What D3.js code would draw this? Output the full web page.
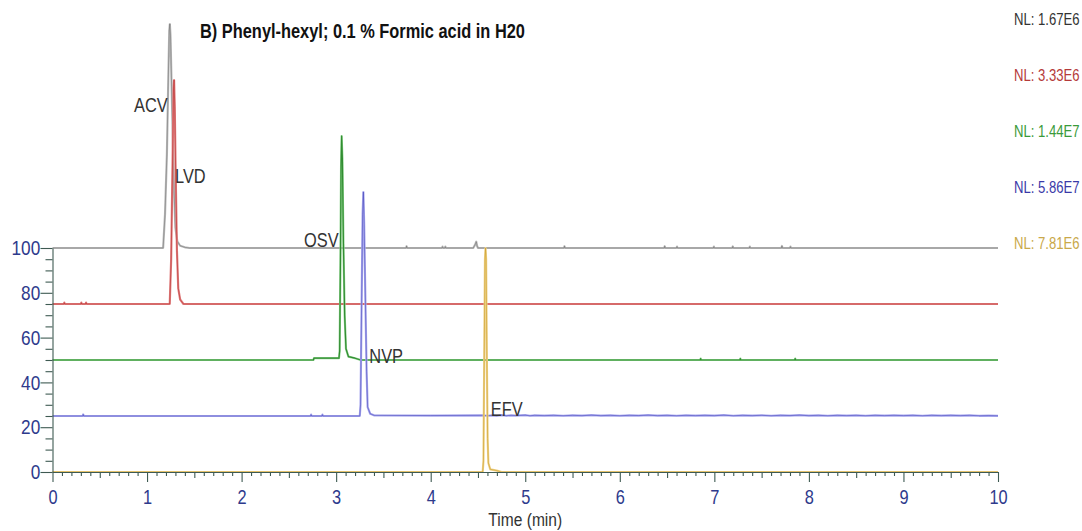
<!DOCTYPE html>
<html>
<head>
<meta charset="utf-8">
<script src="https://cdn.jsdelivr.net/npm/d3@7"></script>
<style>
  html, body { margin: 0; padding: 0; background: #fff; }
  svg { display: block; }
</style>
</head>
<body>
<svg id="chart" width="1082" height="531"></svg>
<script>
// ---------------- DATA ----------------
const titleText = "B) Phenyl-hexyl; 0.1 % Formic acid in H20";
const xLabelText = "Time (min)";
const compounds = ["ACV", "LVD", "OSV", "NVP", "EFV"];
const nlLabels = ["NL: 1.67E6", "NL: 3.33E6", "NL: 1.44E7", "NL: 5.86E7", "NL: 7.81E6"];
const traceOffsets = [100, 75, 50, 25, 0];          // relative abundance offset of each trace
const xMajorTicks = [0, 1, 2, 3, 4, 5, 6, 7, 8, 9, 10];
const yMajorTicks = [0, 20, 40, 60, 80, 100];

// [time (min), relative abundance (0-100)]
const acvTrace = [[0,0],[1.17,0],[1.19,15],[1.21,42],[1.225,76],[1.235,97],[1.241,100],[1.248,95],[1.26,72],[1.272,50],[1.285,26],[1.30,9],[1.32,3],[1.35,1],[1.40,0.3],[1.45,0],
  [3.74,0],[3.745,0.8],[3.75,0],[4.12,0],[4.125,0.6],[4.13,0],[4.15,0],[4.155,0.6],[4.16,0],[4.45,0],[4.47,1.5],[4.482,2.8],[4.49,1],[4.50,0],
  [5.41,0],[5.415,0.8],[5.42,0],[6.47,0],[6.475,0.8],[6.48,0],[6.60,0],[6.605,0.6],[6.61,0],[6.99,0],[6.995,0.6],[7.0,0],[7.19,0],[7.195,0.7],[7.2,0],
  [7.37,0],[7.375,0.6],[7.38,0],[7.71,0],[7.715,0.9],[7.72,0],[7.80,0],[7.805,0.6],[7.81,0],[10,0]];
const lvdTrace = [[0,0],[0.12,0],[0.125,0.6],[0.13,0],[0.30,0],[0.305,0.6],[0.31,0],[0.35,0],[0.355,0.6],[0.36,0],
  [1.24,0],[1.255,20],[1.268,58],[1.28,96],[1.286,100],[1.293,88],[1.303,58],[1.316,24],[1.33,7],[1.35,2],[1.385,0],[10,0]];
const osvTrace = [[0,0],[2.76,0],[2.765,0.8],[3.03,0.8],[3.037,4],[3.045,42],[3.052,86],[3.058,100],[3.066,90],[3.077,52],[3.09,20],[3.104,5],[3.13,1.5],[3.2,0.8],[3.26,0],
  [6.85,0],[6.855,0.6],[6.86,0],[7.27,0],[7.275,0.6],[7.28,0],[7.85,0],[7.855,0.6],[7.86,0],[10,0]];
const nvpTrace = [[0,0],[0.32,0],[0.325,0.7],[0.33,0],[2.73,0],[2.735,0.6],[2.74,0],[2.85,0],[2.855,0.6],[2.86,0],
  [3.25,0],[3.258,5],[3.268,45],[3.28,90],[3.288,100],[3.296,86],[3.31,50],[3.322,20],[3.333,4],[3.36,1],[3.40,0.3],[4.0,0.2],[4.55,0.3],
  [4.6,0.1],[4.65,0.3],[4.7,0.1],[4.75,0.35],[4.8,0.1],[4.85,0.3],[4.9,0.2],[5.0,0.35],[5.05,0.1],[5.1,0.3],[5.2,0.15],[5.3,0.3],[5.4,0.1],[5.5,0.3],
  [5.6,0.15],[5.7,0.35],[5.8,0.15],[5.9,0.3],[6.0,0.1],[6.1,0.3],[6.2,0.2],[6.3,0.35],[6.4,0.15],[6.5,0.3],[6.6,0.1],[6.7,0.3],[6.8,0.15],[6.9,0.3],
  [7.0,0.15],[7.1,0.35],[7.2,0.1],[7.3,0.3],[7.4,0.15],[7.5,0.3],[7.6,0.1],[7.7,0.3],[7.8,0.2],[7.9,0.35],[8.0,0.15],[8.1,0.3],[8.2,0.1],[8.3,0.3],
  [8.4,0.15],[8.5,0.3],[8.6,0.1],[8.7,0.3],[8.8,0.15],[8.9,0.3],[9.0,0.15],[9.1,0.3],[9.2,0.1],[9.3,0.3],[9.4,0.15],[9.5,0.3],[9.6,0.15],[9.7,0.3],
  [9.8,0.1],[9.9,0.2],[10,0.1]];
const efvTrace = [[0,0],[4.55,0],[4.558,5],[4.566,50],[4.574,95],[4.58,100],[4.586,95],[4.594,50],[4.602,15],[4.61,4],[4.63,1.2],[4.70,0.6],[4.75,0],[10,0]];

// label anchors in data units [time, absolute y-value]
const labelTimes = [0.862, 1.296, 2.660, 3.351, 4.635];
const labelValues = [160.9, 129.0, 100.4, 48.7, 25.2];

// ---------------- STYLE ----------------
const traces = [acvTrace, lvdTrace, osvTrace, nvpTrace, efvTrace];
const lightColors = ["#bcbcbc", "#e28484", "#8fd48f", "#a9a9ee", "#efd38c"];
const darkColors  = ["#000000", "#b01818", "#1a7a1a", "#2424a8", "#c8961a"];
const darkWidths  = [0.7, 0.9, 1.2, 0.8, 0.9];
const darkOpacity = [0.3, 0.55, 0.8, 0.5, 0.6];
const nlColors    = ["#333333", "#b53a3a", "#3a9a3a", "#3a3aa8", "#c9a84a"];
const axisColor = "#3e5a52";
const tickTextColor = "#2e3a8c";

// ---------------- FONT ----------------
function fontAvailable(name) {
  const c = document.createElement("canvas").getContext("2d");
  const s = "NL: 1.67E6 Phenyl-hexyl ACV";
  c.font = "20px serif"; const a = c.measureText(s).width;
  c.font = "20px '" + name + "', serif"; const b = c.measureText(s).width;
  c.font = "20px monospace"; const a2 = c.measureText(s).width;
  c.font = "20px '" + name + "', monospace"; const b2 = c.measureText(s).width;
  return a !== b || a2 !== b2;
}
let FONT, SX;
if (fontAvailable("Liberation Sans Narrow")) { FONT = "'Liberation Sans Narrow', 'Liberation Sans', Arial, sans-serif"; SX = 1; }
else { FONT = "'Liberation Sans', Arial, sans-serif"; SX = 0.82; }

// ---------------- SCALES ----------------
const svg = d3.select("#chart");
const x = d3.scaleLinear().domain([0, 10]).range([52.5, 998]);
const y = d3.scaleLinear().domain([0, 200]).range([472, 24]);

function addText(g, px, py, txt, size, color, anchor, weight) {
  return g.append("text")
    .attr("transform", `translate(${px},${py}) scale(${SX},1)`)
    .attr("text-anchor", anchor || "start")
    .attr("font-family", FONT)
    .attr("font-size", size)
    .attr("font-weight", weight || "normal")
    .attr("fill", color)
    .text(txt);
}

// ---------------- TRACES ----------------
const line = d3.line().x(d => x(d[0])).y(d => y(d[1]));
const gTr = svg.append("g");
traces.forEach((tr, i) => {
  const pts = tr.map(d => [d[0], d[1] + traceOffsets[i]]);
  gTr.append("path").attr("d", line(pts)).attr("fill", "none")
    .attr("stroke", lightColors[i]).attr("stroke-width", 2.2).attr("stroke-linejoin", "round");
  gTr.append("path").attr("d", line(pts)).attr("fill", "none")
    .attr("stroke", darkColors[i]).attr("stroke-width", darkWidths[i]).attr("stroke-opacity", darkOpacity[i])
    .attr("stroke-linejoin", "round");
});

// ---------------- AXES ----------------
const xMinor = d3.range(0, 101).map(d => d / 10).filter(d => Math.abs(d - Math.round(d)) > 1e-6);
const xMid = xMinor.filter(d => Math.abs(d * 2 - Math.round(d * 2)) < 1e-6);
const xSmall = xMinor.filter(d => Math.abs(d * 2 - Math.round(d * 2)) > 1e-6);
const yAxisScale = d3.scaleLinear().domain([0, 100]).range([y(0), y(100)]);
const yMinor = d3.range(0, 101, 5).filter(d => d % 20 !== 0);

const gAx = svg.append("g");
function styleAxis(g) {
  g.selectAll("path, line").attr("stroke", axisColor).attr("stroke-width", 1.1);
}
gAx.append("g").attr("transform", `translate(0,${y(0)})`)
  .call(d3.axisBottom(x).tickValues(xSmall).tickSize(4).tickSizeOuter(0).tickFormat(""))
  .call(g => g.select(".domain").remove()).call(styleAxis);
gAx.append("g").attr("transform", `translate(0,${y(0)})`)
  .call(d3.axisBottom(x).tickValues(xMid).tickSize(6).tickSizeOuter(0).tickFormat(""))
  .call(g => g.select(".domain").remove()).call(styleAxis);
const xAx = gAx.append("g").attr("transform", `translate(0,${y(0)})`)
  .call(d3.axisBottom(x).tickValues(xMajorTicks).tickSize(10).tickSizeOuter(0).tickPadding(8).tickFormat(d3.format("d")))
  .call(styleAxis);
xAx.selectAll("text").attr("font-family", FONT).attr("font-size", 20).attr("fill", tickTextColor)
  .attr("transform", `scale(${SX},1)`);

gAx.append("g").attr("transform", `translate(${x(0)},0)`)
  .call(d3.axisLeft(yAxisScale).tickValues(yMinor).tickSize(7).tickSizeOuter(0).tickFormat(""))
  .call(g => g.select(".domain").remove()).call(styleAxis);
const yAx = gAx.append("g").attr("transform", `translate(${x(0)},0)`)
  .call(d3.axisLeft(yAxisScale).tickValues(yMajorTicks).tickSize(12).tickSizeOuter(0).tickPadding(3).tickFormat(d3.format("d")))
  .call(styleAxis);
yAx.selectAll("text").attr("font-family", FONT).attr("font-size", 21).attr("fill", tickTextColor)
  .attr("transform", `scale(${SX},1)`);

// ---------------- TEXT ----------------
const gTx = svg.append("g");
addText(gTx, 200, 38, titleText, 20, "#111", "start", "bold");
addText(gTx, (x(0) + x(10)) / 2, 526, xLabelText, 19, "#333", "middle");
compounds.forEach((c, i) => addText(gTx, x(labelTimes[i]), y(labelValues[i]), c, 20, "#333", "start"));
nlLabels.forEach((t, i) => addText(gTx, x(10) + 16, y(traceOffsets[i] + 100) + 1, t, 16, nlColors[i], "start"));
</script>
</body>
</html>
